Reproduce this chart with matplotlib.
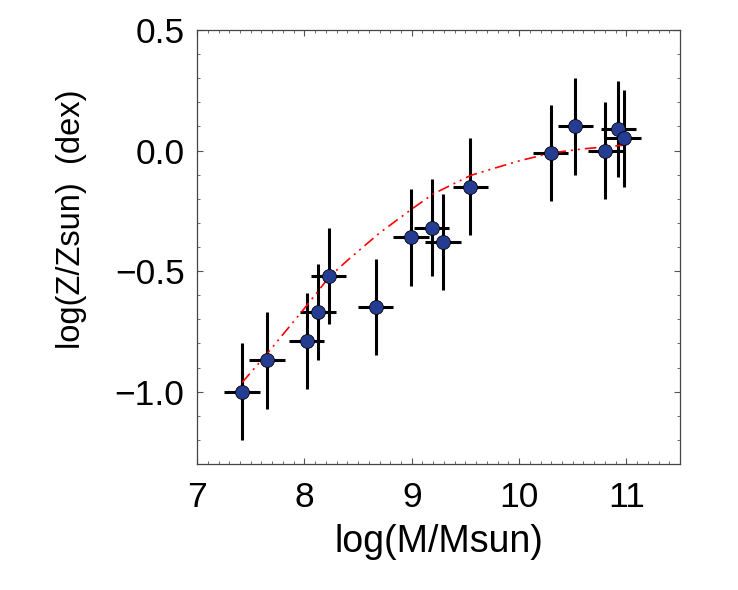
import matplotlib
matplotlib.use("Agg")
import matplotlib.pyplot as plt
from matplotlib.ticker import MultipleLocator

plt.rcParams['font.family'] = ['Liberation Sans', 'DejaVu Sans']

# measured points
log_mass = [7.42, 7.65, 8.02, 8.125, 8.225, 8.665, 8.995, 9.185, 9.29, 9.545,
            10.295, 10.525, 10.805, 10.925, 10.975]
log_z = [-1.00, -0.87, -0.79, -0.67, -0.52, -0.65, -0.36, -0.32, -0.38, -0.15,
         -0.01, 0.10, 0.00, 0.09, 0.05]
mass_err = 0.165
z_err = 0.20

# fit curve
fit_mass = [7.42, 7.65, 8.0, 8.23, 8.4, 8.7, 9.0, 9.2, 9.55, 9.75, 10.0, 10.3, 10.6, 10.97]
fit_z = [-0.962, -0.844, -0.655, -0.525, -0.456, -0.342, -0.243, -0.18, -0.103, -0.076,
         -0.043, -0.01, 0.007, 0.022]


def main():
    fig = plt.figure(figsize=(7.38, 5.90), dpi=100)
    ax = fig.add_axes([0.267, 0.2136, 0.6545, 0.7356])

    ax.errorbar(log_mass, log_z, xerr=mass_err, yerr=z_err, fmt='none',
                ecolor='black', elinewidth=2.2, capsize=0, zorder=2)
    ax.plot(fit_mass, fit_z, color='red', lw=1.2, dashes=(7, 3, 1.2, 3, 1.2, 3), zorder=3)
    ax.plot(log_mass, log_z, 'o', ms=10, mfc='#243d92', mec='black', mew=0.6, zorder=4)

    ax.set_xlim(7, 11.5)
    ax.set_ylim(-1.3, 0.5)
    ax.xaxis.set_major_locator(MultipleLocator(1))
    ax.xaxis.set_minor_locator(MultipleLocator(0.1))
    ax.yaxis.set_major_locator(MultipleLocator(0.5))
    ax.yaxis.set_minor_locator(MultipleLocator(0.1))
    ax.set_yticks([0.5, 0.0, -0.5, -1.0])
    ax.set_yticklabels(['0.5', '0.0', '\u22120.5', '\u22121.0'])

    ax.tick_params(which='both', direction='in', top=True, right=True,
                   labelsize=25.5, color='#555555')
    ax.tick_params(which='major', length=4.5, width=0.8)
    ax.tick_params(which='minor', length=2.2, width=0.6)
    ax.tick_params(axis='x', pad=12)
    ax.tick_params(axis='y', pad=9)
    for s in ax.spines.values():
        s.set_color('#444444')
        s.set_linewidth(0.9)

    ax.set_xlabel('log(M/Msun)', fontsize=27)
    ax.set_ylabel('log(Z/Zsun)  (dex)', fontsize=23.5)
    ax.xaxis.set_label_coords(0.5, -0.18)
    ax.yaxis.set_label_coords(-0.259, 0.565)
    ax.xaxis.label.set_va('center')
    ax.yaxis.label.set_va('center')

    fig.savefig('out.png', dpi=100)


if __name__ == '__main__':
    main()
